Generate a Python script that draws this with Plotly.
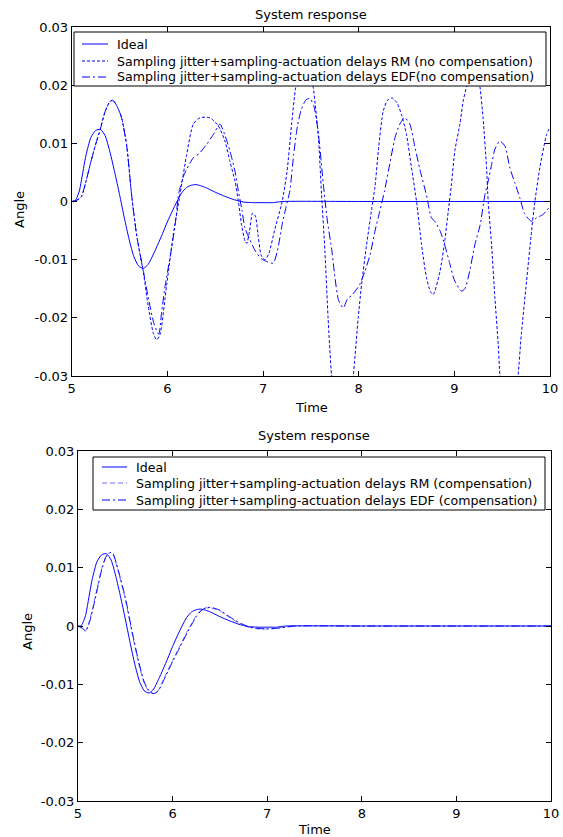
import plotly.graph_objects as go

W, H = 563, 837

# ---------------- data ----------------
x_ticks = [5, 6, 7, 8, 9, 10]
y_ticks = [0.03, 0.02, 0.01, 0, -0.01, -0.02, -0.03]
y_tick_text = ["0.03", "0.02", "0.01", "0", "-0.01", "-0.02", "-0.03"]

ideal_t = [5.0, 5.03, 5.05, 5.08, 5.1, 5.15, 5.2, 5.25, 5.3, 5.35, 5.4, 5.45, 5.5, 5.55, 5.6,
           5.65, 5.7, 5.75, 5.8, 5.85, 5.9, 5.95, 6.0, 6.05, 6.1, 6.15, 6.2, 6.25, 6.3, 6.35,
           6.4, 6.5, 6.6, 6.7, 6.8, 6.9, 7.0, 7.1, 7.2, 8.0, 9.0, 10.0]
ideal_v = [0, 0, 0.0005, 0.0018, 0.0035, 0.008, 0.011, 0.0122, 0.0124, 0.0113, 0.0085, 0.005,
           0.0012, -0.0028, -0.0065, -0.0095, -0.0111, -0.0115, -0.0108, -0.0092, -0.0074,
           -0.0055, -0.0035, -0.0017, 0.0, 0.0015, 0.0024, 0.0028, 0.0029, 0.0027, 0.0024,
           0.0016, 0.0009, 0.0003, -0.0001, -0.0002, -0.0002, -0.0002, 0.0, 0.0, 0.0, 0.0]

rm_t = [5.0, 5.05, 5.1, 5.15, 5.2, 5.25, 5.3, 5.35, 5.4, 5.43, 5.47, 5.52, 5.575, 5.627, 5.68,
        5.75, 5.80, 5.854, 5.888, 5.923, 5.993, 6.062, 6.132, 6.202, 6.271, 6.341, 6.445, 6.533,
        6.602, 6.654, 6.707, 6.742, 6.776, 6.811, 6.83, 6.86, 6.89, 6.92, 6.95, 6.98, 7.02, 7.06,
        7.12, 7.2, 7.25, 7.30, 7.34, 7.39, 7.44, 7.49, 7.525, 7.577, 7.612, 7.647, 7.68, 7.716,
        7.76, 7.83, 7.90, 7.943, 7.995, 8.03, 8.082, 8.134, 8.17, 8.21, 8.256, 8.30, 8.35, 8.40,
        8.45, 8.50, 8.552, 8.605, 8.657, 8.709, 8.75, 8.78, 8.85, 8.90, 8.936, 8.97, 9.005, 9.058,
        9.093, 9.128, 9.17, 9.2, 9.235, 9.267, 9.30, 9.337, 9.354, 9.389, 9.424, 9.459, 9.476,
        9.52, 9.57, 9.62, 9.667, 9.70, 9.755, 9.807, 9.842, 9.894, 9.964, 10.0]
rm_v = [0, 0.0002, 0.0008, 0.0035, 0.0068, 0.0098, 0.0125, 0.0155, 0.0172, 0.0174, 0.0165, 0.0145,
        0.0096, 0.001, -0.0059, -0.0123, -0.018, -0.0227, -0.0238, -0.0229, -0.0143, -0.0057,
        0.0012, 0.0081, 0.0133, 0.0144, 0.0144, 0.013, 0.0104, 0.0069, 0.0035, 0.0, -0.004,
        -0.0068, -0.0072, -0.005, -0.002, -0.0025, -0.006, -0.0092, -0.0100, -0.009, -0.005, 0.0,
        0.005, 0.0135, 0.0195, 0.0232, 0.0238, 0.0225, 0.0196, 0.0115, 0.0012, -0.0085, -0.02,
        -0.0298, -0.036, -0.038, -0.035, -0.030, -0.020, -0.0143, -0.0075, -0.0015, 0.0025, 0.0095,
        0.0155, 0.0174, 0.0178, 0.017, 0.0148, 0.0115, 0.0058, 0.0, -0.0074, -0.0131, -0.0155,
        -0.016, -0.012, -0.0068, -0.0017, 0.003, 0.0087, 0.0133, 0.0173, 0.0198, 0.0225, 0.0228,
        0.0222, 0.0198, 0.0144, 0.0058, 0.0, -0.0074, -0.0166, -0.0246, -0.0298, -0.037, -0.040,
        -0.037, -0.0298, -0.0229, -0.0137, -0.0051, 0.0, 0.0058, 0.0115, 0.0128]

edf_t = [5.0, 5.05, 5.1, 5.15, 5.2, 5.25, 5.3, 5.35, 5.4, 5.43, 5.47, 5.52, 5.575, 5.627, 5.68,
         5.75, 5.80, 5.86, 5.91, 5.94, 5.976, 6.03, 6.08, 6.12, 6.17, 6.2, 6.27, 6.33, 6.41, 6.48,
         6.55, 6.6, 6.654, 6.707, 6.742, 6.78, 6.81, 6.86, 6.92, 6.98, 7.05, 7.107, 7.15, 7.2,
         7.24, 7.28, 7.32, 7.36, 7.40, 7.45, 7.49, 7.53, 7.58, 7.63, 7.67, 7.72, 7.75, 7.79, 7.84,
         7.88, 7.93, 8.01, 8.065, 8.12, 8.17, 8.22, 8.27, 8.33, 8.38, 8.43, 8.48, 8.535, 8.59,
         8.64, 8.71, 8.76, 8.80, 8.85, 8.90, 8.95, 9.0, 9.075, 9.11, 9.16, 9.215, 9.27, 9.32,
         9.354, 9.39, 9.424, 9.476, 9.53, 9.58, 9.633, 9.685, 9.737, 9.807, 9.86, 9.93, 10.0]
edf_v = [0, 0.0002, 0.0008, 0.0035, 0.0068, 0.0098, 0.0125, 0.0155, 0.0172, 0.0174, 0.0165,
         0.0145, 0.0096, 0.001, -0.0059, -0.012, -0.0165, -0.021, -0.0228, -0.019, -0.0146,
         -0.0094, -0.0042, 0.0015, 0.0044, 0.0055, 0.0075, 0.0082, 0.0098, 0.0115, 0.0133, 0.0115,
         0.0087, 0.0052, 0.0018, -0.0015, -0.0045, -0.0065, -0.0085, -0.0098, -0.0104, -0.0106,
         -0.0085, -0.004, -0.001, 0.0018, 0.008, 0.013, 0.0158, 0.0175, 0.0177, 0.0165, 0.0115,
         0.003, -0.003, -0.0085, -0.0128, -0.017, -0.0183, -0.0168, -0.0161, -0.0143, -0.012,
         -0.0091, -0.0051, -0.0017, 0.0018, 0.0069, 0.011, 0.0133, 0.0144, 0.0133, 0.0092, 0.0055,
         0.001, -0.0028, -0.0035, -0.005, -0.0075, -0.0105, -0.0135, -0.0154, -0.015, -0.012,
         -0.0074, -0.004, 0.0012, 0.0035, 0.0064, 0.009, 0.0104, 0.0095, 0.0058, 0.0032, 0.0006,
         -0.0022, -0.0034, -0.0028, -0.0022, -0.0008]

comp_t = [5.0, 5.04, 5.08, 5.12, 5.16, 5.2, 5.25, 5.3, 5.34, 5.37, 5.42, 5.5, 5.57, 5.64, 5.7,
          5.75, 5.8, 5.85, 5.9, 5.95, 6.0, 6.05, 6.1, 6.15, 6.2, 6.25, 6.3, 6.35, 6.4, 6.45, 6.5,
          6.6, 6.7, 6.8, 6.9, 7.0, 7.1, 7.2, 7.3, 8.0, 9.0, 10.0]
comp_rm_v = [0, -0.0004, -0.0009, 0.0008, 0.0034, 0.0063, 0.0098, 0.0121, 0.0126, 0.0123, 0.0097,
             0.0046, -0.0011, -0.0063, -0.0098, -0.0112, -0.0116, -0.011, -0.0093, -0.0076,
             -0.0059, -0.0043, -0.0027, -0.0011, 0.0004, 0.0018, 0.0027, 0.0031, 0.0031, 0.0029,
             0.0026, 0.0015, 0.0005, -0.0002, -0.0005, -0.0005, -0.0004, -0.0001, 0.0, 0.0, 0.0, 0.0]
comp_edf_v = [0, -0.0003, -0.0008, 0.0006, 0.0031, 0.0060, 0.0096, 0.0120, 0.0126, 0.0124, 0.0099,
              0.0049, -0.0008, -0.0060, -0.0096, -0.0111, -0.0116, -0.0111, -0.0095, -0.0078,
              -0.0061, -0.0045, -0.0029, -0.0013, 0.0002, 0.0016, 0.0026, 0.0031, 0.0032, 0.0030,
              0.0027, 0.0016, 0.0006, -0.0001, -0.0004, -0.0005, -0.0004, -0.0002, 0.0, 0.0, 0.0, 0.0]

names_top = ["Ideal",
             "Sampling jitter+sampling-actuation delays RM (no compensation)",
             "Sampling jitter+sampling-actuation delays EDF(no compensation)"]
names_bot = ["Ideal",
             "Sampling jitter+sampling-actuation delays RM (compensation)",
             "Sampling jitter+sampling-actuation delays EDF (compensation)"]

# ---------------- figure ----------------
FONT = "DejaVu Sans, Arial, sans-serif"
FS = 13
LFS = 12.6
BLUE = "#0000ff"
LIGHT = "#6f6fff"
DOT = "3px,2px"
DASHDOT = "8px,3px,2px,3px"
DASH = "5px,3px"

fig = go.Figure()
sm = 0.6

def add(t, v, name, color, dash, xa, ya):
    fig.add_trace(go.Scatter(x=t, y=v, name=name, mode="lines", xaxis=xa, yaxis=ya,
                             showlegend=False,
                             line=dict(color=color, width=1, dash=dash, shape="spline",
                                       smoothing=sm)))

top_styles = [(BLUE, "solid"), (BLUE, DOT), (BLUE, DASHDOT)]
bot_styles = [(BLUE, "solid"), (LIGHT, DASH), (BLUE, DASHDOT)]

add(ideal_t, ideal_v, names_top[0], *top_styles[0], "x", "y")
add(rm_t, rm_v, names_top[1], *top_styles[1], "x", "y")
add(edf_t, edf_v, names_top[2], *top_styles[2], "x", "y")

add(ideal_t, ideal_v, names_bot[0], *bot_styles[0], "x2", "y2")
add(comp_t, comp_rm_v, names_bot[1], *bot_styles[1], "x2", "y2")
add(comp_t, comp_edf_v, names_bot[2], *bot_styles[2], "x2", "y2")

def px_x(p):
    return p / W

def px_y(p):
    return 1 - p / H

axis_common = dict(showline=True, linecolor="black", linewidth=1, mirror="ticks",
                   ticks="inside", ticklen=5, tickcolor="black", showgrid=False,
                   zeroline=False, automargin=False,
                   tickfont=dict(family=FONT, size=FS, color="black"))

fig.update_layout(
    width=W, height=H, margin=dict(l=0, r=0, t=0, b=0, autoexpand=False),
    paper_bgcolor="white", plot_bgcolor="white",
    font=dict(family=FONT, size=FS, color="black"),
    xaxis=dict(domain=[px_x(71.7), px_x(550)], range=[5, 10], tickvals=x_ticks,
               anchor="y", **axis_common),
    yaxis=dict(domain=[px_y(376), px_y(27)], range=[-0.03, 0.03], tickvals=y_ticks,
               ticktext=y_tick_text, anchor="x", **axis_common),
    xaxis2=dict(domain=[px_x(78), px_x(551)], range=[5, 10], tickvals=x_ticks,
                anchor="y2", **axis_common),
    yaxis2=dict(domain=[px_y(801), px_y(451)], range=[-0.03, 0.03], tickvals=y_ticks,
                ticktext=y_tick_text, anchor="x2", **axis_common),
    showlegend=False,
)

# legend boxes (drawn like the MATLAB legend)
def legend_box(x0, x1, y0, y1, rows, line_x0, line_x1, text_x, names, styles):
    fig.add_shape(type="rect", xref="paper", yref="paper", layer="above",
                  x0=px_x(x0), x1=px_x(x1), y0=px_y(y1), y1=px_y(y0),
                  line=dict(color="black", width=1), fillcolor="white")
    for ry, name, (col, dash) in zip(rows, names, styles):
        fig.add_shape(type="line", xref="paper", yref="paper", layer="above",
                      x0=px_x(line_x0), x1=px_x(line_x1), y0=px_y(ry), y1=px_y(ry),
                      line=dict(color=col, width=1, dash=dash))
        fig.add_annotation(text=name, x=px_x(text_x), y=px_y(ry), xref="paper", yref="paper",
                           showarrow=False, xanchor="left", yanchor="middle",
                           font=dict(family=FONT, size=LFS, color="black"))

legend_box(74, 546, 32, 86, [44, 61, 77], 82, 108, 115, names_top, top_styles)
legend_box(93, 545, 457, 510, [467, 483, 500], 102, 127, 134, names_bot, bot_styles)

ann = [
    ("System response", 311, 14, 0),
    ("Time", 311, 407, 0),
    ("Angle", 20, 210, -90),
    ("System response", 314, 436, 0),
    ("Time", 314, 829, 0),
    ("Angle", 27, 632, -90),
]
for text, x, y, ang in ann:
    fig.add_annotation(text=text, x=px_x(x), y=px_y(y), xref="paper", yref="paper",
                       showarrow=False, textangle=ang, xanchor="center", yanchor="middle",
                       font=dict(family=FONT, size=FS, color="black"))

fig.write_html("out.html", config={"displayModeBar": False},
               post_script="document.body.style.margin='0';document.body.style.overflow='hidden';")
